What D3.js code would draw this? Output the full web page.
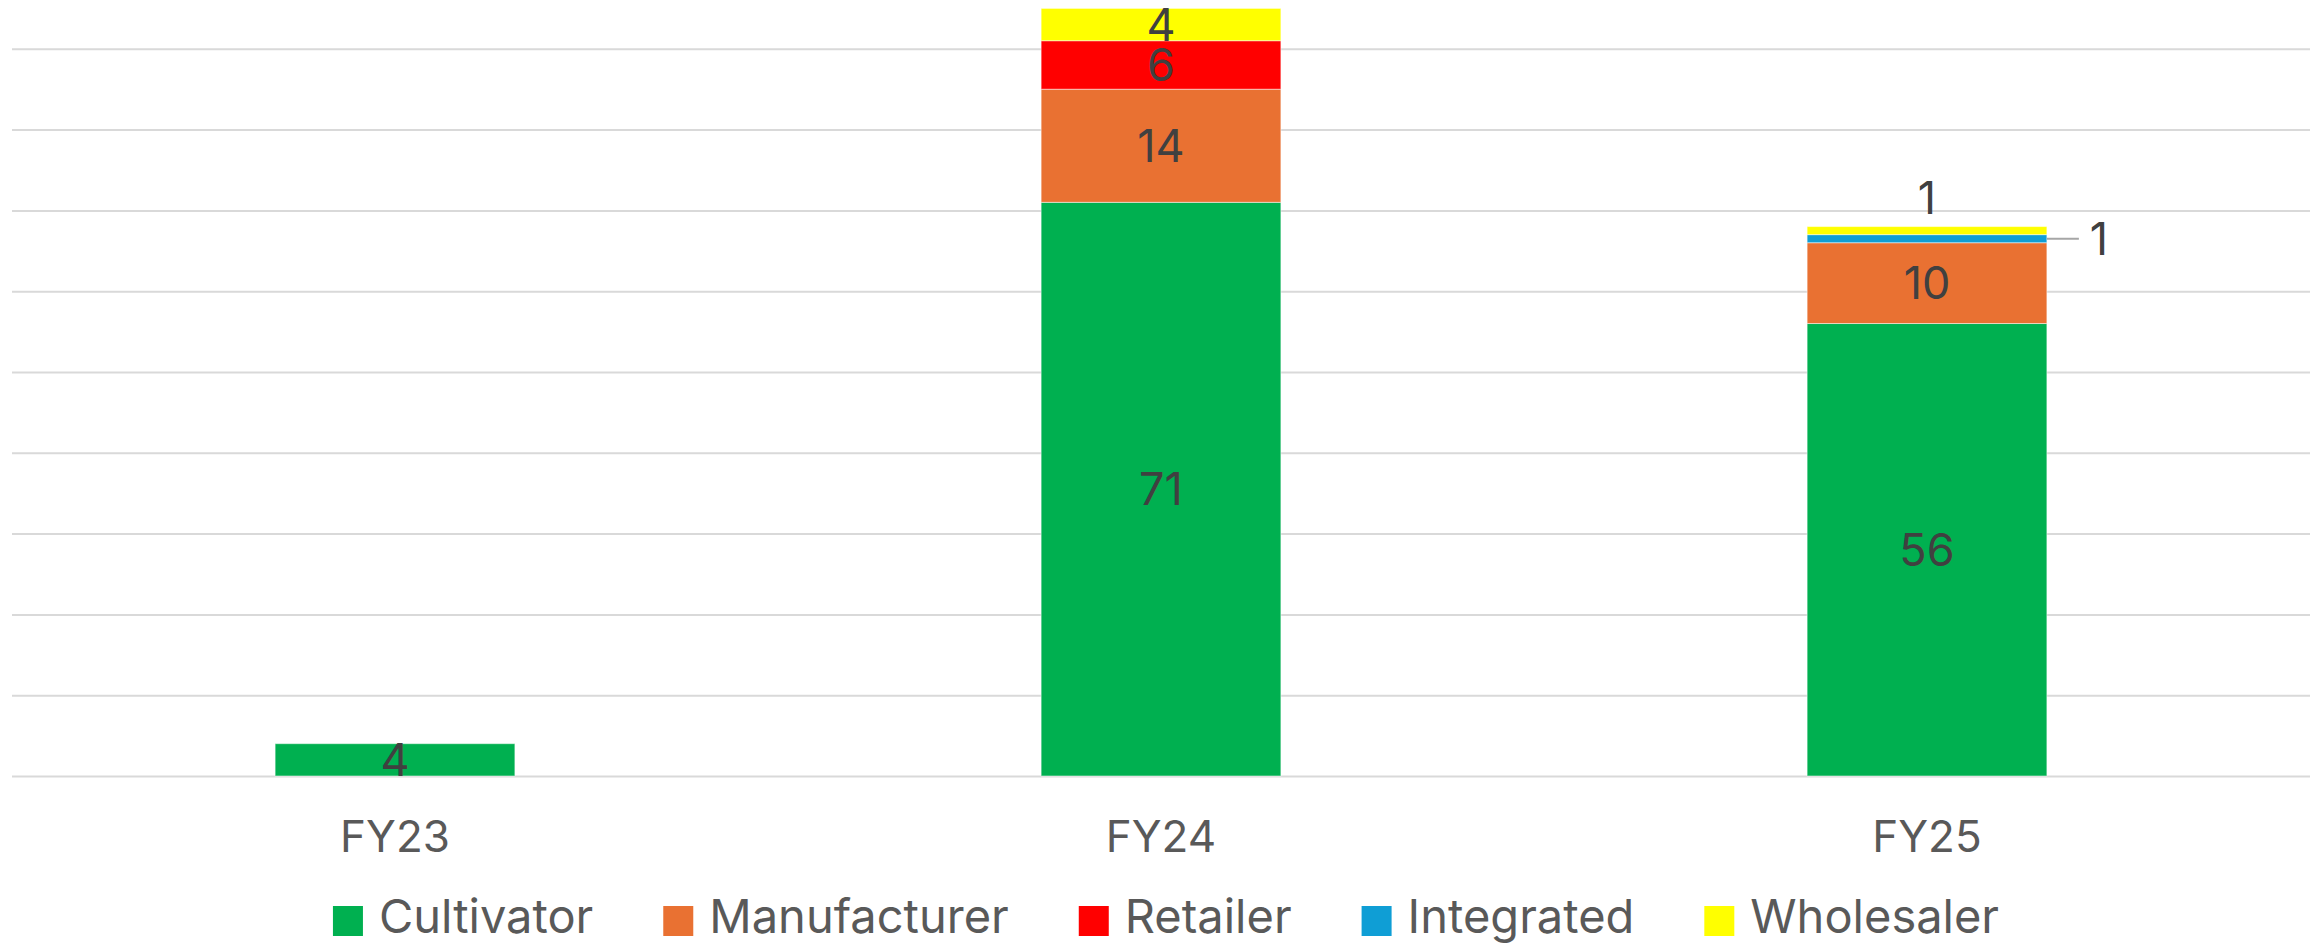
<!DOCTYPE html>
<html>
<head>
<meta charset="utf-8">
<script src="https://cdn.jsdelivr.net/npm/d3@7"></script>
<style>
  html, body { margin: 0; padding: 0; background: #fff; }
  svg text { font-family: Inter, Roboto, "Noto Sans", sans-serif; }
</style>
</head>
<body>
<svg id="svg_licenses" width="2315" height="946"></svg>
<script>
// Licences by type per fiscal year (stacked)

const years = ['FY23', 'FY24', 'FY25'];
const types = ['Cultivator', 'Manufacturer', 'Retailer', 'Integrated', 'Wholesaler'];
const colors = ['#00B050', '#E97132', '#FF0000', '#0F9ED5', '#FFFF00'];

const cultivator   = [4, 71, 56];
const manufacturer = [0, 14, 10];
const retailer     = [0, 6, 0];
const integrated   = [0, 0, 1];
const wholesaler   = [0, 4, 1];

const gridTicks = [0, 10, 20, 30, 40, 50, 60, 70, 80, 90];

// table for d3.stack
const series = [cultivator, manufacturer, retailer, integrated, wholesaler];
const table = years.map((y, i) => {
    let row = { year: y };
    types.forEach((t, j) => row[t] = series[j][i]);
    return row;
});

const svg = d3.select('#svg_licenses');
const plotLeft = 12, plotRight = 2310, plotBottom = 776, plotTop = 48.8;

const xScale = d3.scaleBand()
    .domain(years)
    .range([plotLeft, plotRight])
    .paddingInner(0.687)
    .paddingOuter(0.3435);

const yScale = d3.scaleLinear()
    .domain([0, 90])
    .range([plotBottom, plotTop]);

const color = d3.scaleOrdinal().domain(types).range(colors);

// gridlines
const grid = d3.axisRight(yScale)
    .tickValues(gridTicks)
    .tickSize(plotRight - plotLeft)
    .tickFormat('');

svg.append('g')
   .attr('transform', `translate(${plotLeft}, 0)`)
   .call(grid)
   .call(g => g.select('.domain').remove())
   .call(g => g.selectAll('line').attr('stroke', '#d9d9d9').attr('stroke-width', 2));

// stacked bars
const stacked = d3.stack().keys(types)(table);

const layers = svg.append('g')
    .selectAll('g')
    .data(stacked)
    .join('g')
    .attr('fill', d => color(d.key));

layers.selectAll('rect')
    .data(d => d.filter(s => s[1] - s[0] > 0))
    .join('rect')
    .attr('x', d => xScale(d.data.year))
    .attr('width', xScale.bandwidth())
    .attr('y', d => yScale(d[1]))
    .attr('height', d => yScale(d[0]) - yScale(d[1]))
    .attr('stroke', '#ffffff')
    .attr('stroke-opacity', 0.5)
    .attr('stroke-width', 1);

// data labels
const labelSize = 45;
const labels = svg.append('g')
    .attr('font-size', labelSize)
    .attr('fill', '#404040')
    .attr('text-anchor', 'middle');

stacked.forEach(layer => {
    layer.forEach(s => {
        let v = s[1] - s[0];
        if (v <= 0) return;
        let cx = xScale(s.data.year) + xScale.bandwidth() / 2;
        let cy = (yScale(s[0]) + yScale(s[1])) / 2;
        let tiny = (yScale(s[0]) - yScale(s[1])) < 20;

        if (!tiny) {
            // keep the label inside the top of the picture
            labels.append('text')
                  .attr('x', cx)
                  .attr('y', Math.max(cy + labelSize * 0.36, 41))
                  .text(v);
        } else if (layer.key === 'Wholesaler') {
            // sits above the bar
            labels.append('text')
                  .attr('x', cx)
                  .attr('y', yScale(s[1]) - 13)
                  .text(v);
        } else {
            // pulled out to the right with a leader line
            let xr = xScale(s.data.year) + xScale.bandwidth();
            svg.append('line')
               .attr('x1', xr).attr('x2', xr + 32)
               .attr('y1', cy).attr('y2', cy)
               .attr('stroke', '#a6a6a6')
               .attr('stroke-width', 2);
            labels.append('text')
                  .attr('x', xr + 52)
                  .attr('y', cy)
                  .attr('dy', '0.36em')
                  .text(v);
        }
    });
});

// category labels
svg.append('g')
   .selectAll('text')
   .data(years)
   .join('text')
   .attr('x', d => xScale(d) + xScale.bandwidth() / 2)
   .attr('y', 852)
   .attr('text-anchor', 'middle')
   .attr('font-size', 44)
   .attr('fill', '#595959')
   .text(d => d);

// legend
const legend = svg.append('g');
let lx = 0;
types.forEach((t, i) => {
    let item = legend.append('g').attr('transform', `translate(${lx}, 0)`);
    item.append('rect')
        .attr('x', 0).attr('y', 906)
        .attr('width', 30).attr('height', 30)
        .attr('fill', colors[i]);
    let txt = item.append('text')
        .attr('x', 46).attr('y', 933)
        .attr('font-size', 47)
        .attr('fill', '#595959')
        .text(t);
    lx += 46 + txt.node().getComputedTextLength() + 70;
});
lx -= 70;
legend.attr('transform', `translate(${(plotLeft + plotRight) / 2 - lx / 2 + 5}, 0)`);
</script>
</body>
</html>
